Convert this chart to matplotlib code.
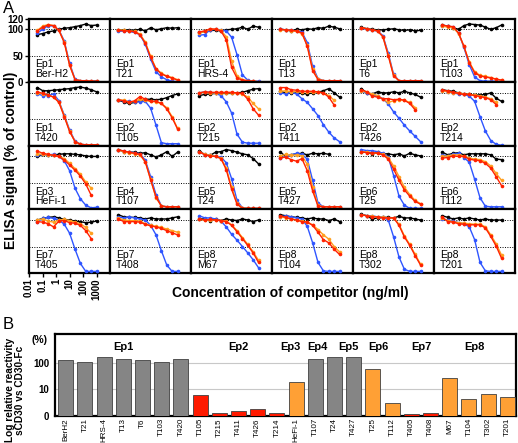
import numpy as np
import matplotlib
matplotlib.use("Agg")
import matplotlib.pyplot as plt

plt.rcParams['font.family'] = ['Liberation Sans', 'DejaVu Sans']

# ---- panel A data: competitor concentration (ng/ml) and ELISA signal (% of control)
conc = [0.042, 0.105, 0.26, 0.66, 1.64, 4.1, 10.2, 25.6, 64, 160, 400, 1000]

antibodies = ["Ber-H2", "T21", "HRS-4", "T13", "T6", "T103",
              "T420", "T105", "T215", "T411", "T426", "T214",
              "HeFi-1", "T107", "T24", "T427", "T25", "T112",
              "T405", "T408", "M67", "T104", "T302", "T201"]
epitopes = ["Ep1", "Ep1", "Ep1", "Ep1", "Ep1", "Ep1",
            "Ep1", "Ep2", "Ep2", "Ep2", "Ep2", "Ep2",
            "Ep3", "Ep4", "Ep5", "Ep5", "Ep6", "Ep6",
            "Ep7", "Ep7", "Ep8", "Ep8", "Ep8", "Ep8"]

nan = np.nan
black_curves = [
    [90, 92, 95, 97, 100, 102, 103, 105, 107, 110, 107, 108],
    [98, 99, 99, 98, 100, 97, 103, 99, 101, 103, 102, 103],
    [94, 96, 98, 98, 97, 99, 100, 101, 104, 100, 106, 104],
    [100, 99, 97, 100, 99, 101, 100, 103, 102, 106, 104, 101],
    [104, 101, 100, 99, 99, 100, 101, 99, 98, 99, 97, 98],
    [108, 106, 103, 100, 107, 110, 109, 108, 104, 100, 103, 108],
    [110, 104, 104, 105, 106, 107, 108, 110, 111, 109, 106, 102],
    [86, 83, 80, 82, 85, 88, 88, 87, 88, 91, 95, 98],
    [95, 97, 98, 99, 99, 99, 99, 100, 101, 104, 107, 108],
    [103, 100, 99, 100, 99, 98, 100, 101, 104, 108, 100, 92],
    [108, 100, 98, 102, 100, 100, 102, 100, 103, 100, 97, 92],
    [106, 104, 103, 100, 98, 97, 96, 96, 97, 100, 90, 84],
    [100, 104, 103, 103, 104, 105, 105, 104, 103, 101, 100, 100],
    [113, 109, 108, 108, 106, 107, 103, 99, 103, 109, 100, 108],
    [111, 103, 102, 108, 109, 113, 111, 108, 105, 103, 96, 86],
    [108, 100, 103, 105, 106, 103, 106, 105, 106, 104, nan, nan],
    [108, 108, 105, 108, 105, 105, 103, 105, 101, 106, 103, 101],
    [108, 103, 106, 107, 103, 105, 105, 105, 105, 103, 95, 94],
    [100, 103, 105, 106, 104, 101, 100, 98, 97, 95, 96, 98],
    [110, 106, 105, 105, 104, 102, 104, 102, 102, 102, 104, 106],
    [102, 102, 99, 102, 99, 102, 100, 99, 102, 100, 97, 100],
    [110, 108, 106, 105, 104, 102, 104, 102, 102, 99, 102, 97],
    [111, 108, 102, 104, 105, 105, 104, 107, 104, 104, 102, 100],
    [108, 105, 102, 104, 102, 104, 102, 100, 102, 100, 100, 100],
]
blue_curves = [
    [93, 100, 107, 106, 99, 78, 36, 6, 3, 3, 3, 3],
    [96, 97, 96, 94, 90, 72, 44, 20, 10, 5, 2, 1],
    [89, 90, 99, 100, 99, 97, 85, 52, 14, 4, 2, 2],
    [100, 99, 98, 97, 95, 75, 30, 7, 3, 3, 3, 3],
    [102, 100, 98, 97, 88, 55, 15, 3, 3, 3, 3, 3],
    [107, 106, 104, 93, 66, 33, 10, 3, 2, 2, 2, 2],
    [98, 95, 95, 98, 85, 58, 30, 9, 3, 2, 2, 2],
    [86, 85, 84, 83, 83, 84, 71, 39, 6, 4, 4, 4],
    [100, 102, 101, 99, 95, 83, 62, 22, 7, 5, 5, 5],
    [100, 98, 101, 98, 89, 82, 70, 57, 40, 26, 15, 8],
    [103, 100, 97, 94, 89, 79, 64, 52, 39, 28, 18, 8],
    [104, 102, 100, 98, 97, 94, 84, 55, 28, 10, 3, 1],
    [102, 104, 103, 104, 100, 92, 73, 40, 20, 8, 3, 4],
    [112, 110, 108, 107, 105, 93, 62, 28, 7, 5, 5, 5],
    [108, 104, 102, 100, 99, 88, 58, 17, 3, 2, 2, 2],
    [97, 100, 103, 106, 104, 95, 55, 12, 5, 5, 5, 5],
    [113, 111, 111, 109, 106, 99, 64, 25, 8, 2, 2, 2],
    [103, 101, 104, 106, 98, 89, 57, 22, 6, 5, 5, 5],
    [97, 103, 105, 103, 100, 92, 75, 45, 18, 3, 3, 3],
    [106, 104, 106, 104, 102, 100, 90, 72, 42, 15, 3, 3],
    [108, 104, 104, 102, 98, 87, 73, 62, 50, 38, 25, 10],
    [106, 108, 106, 104, 102, 88, 57, 20, 4, 3, 3, 3],
    [110, 108, 108, 106, 105, 100, 68, 30, 7, 3, 3, 3],
    [102, 100, 98, 95, 93, 87, 63, 20, 4, 3, 3, 3],
]
orange_curves = [
    [98, 106, 109, 107, 98, 76, 33, 5, 3, 3, 2, 2],
    [99, 98, 97, 96, 91, 76, 49, 26, 17, 12, 9, 5],
    [93, 96, 100, 100, 98, 86, 40, 12, 5, 3, 2, 1],
    [99, 99, 97, 96, 92, 70, 25, 6, 3, 3, 3, 3],
    [103, 101, 99, 97, 86, 52, 13, 3, 3, 3, 3, 3],
    [106, 104, 103, 92, 68, 38, 20, 13, 11, 9, 6, 4],
    [100, 98, 96, 92, 83, 57, 28, 8, 3, 2, 2, 2],
    [87, 86, 83, 84, 88, 86, 84, 83, 80, 72, 55, 33],
    [100, 101, 100, 100, 100, 100, 100, 99, 98, 92, 80, 70],
    [103, 104, 102, 103, 102, 102, 101, 101, 100, 95, 86, nan],
    [104, 101, 98, 95, 88, 82, 85, 87, 86, 82, 72, nan],
    [104, 102, 100, 100, 98, 97, 96, 94, 92, 89, 82, nan],
    [105, 104, 103, 102, 100, 96, 87, 77, 66, 52, 40, nan],
    [112, 109, 107, 105, 103, 90, 57, 22, 7, 5, 5, 5],
    [109, 104, 102, 100, 97, 78, 42, 12, 3, 2, 2, 2],
    [101, 104, 102, 103, 101, 85, 42, 8, 5, 5, 5, 5],
    [109, 108, 107, 106, 104, 98, 82, 62, 42, 28, 17, 11],
    [100, 101, 103, 103, 101, 97, 95, 94, 90, 82, 68, 55],
    [100, 102, 98, 96, 100, 101, 99, 96, 93, 86, 75, nan],
    [104, 100, 99, 99, 98, 93, 90, 88, 86, 83, 80, 77],
    [101, 100, 100, 100, 99, 98, 91, 80, 67, 54, 40, 24],
    [106, 104, 102, 100, 98, 96, 91, 82, 72, 64, 50, 40],
    [110, 108, 107, 106, 105, 104, 104, 92, 70, 54, 35, 17],
    [103, 99, 97, 95, 94, 93, 92, 92, 87, 72, 55, 34],
]
red_curves = [
    [97, 104, 108, 107, 98, 75, 32, 5, 3, 3, 2, 2],
    [98, 97, 97, 95, 90, 74, 47, 25, 16, 11, 8, 4],
    [95, 97, 101, 100, 97, 80, 28, 8, 4, 3, 2, 1],
    [100, 99, 98, 97, 93, 68, 22, 5, 3, 3, 3, 3],
    [103, 101, 99, 97, 86, 50, 12, 3, 3, 3, 3, 3],
    [108, 106, 105, 93, 68, 37, 18, 12, 10, 8, 6, 4],
    [102, 99, 96, 92, 82, 55, 27, 8, 3, 2, 2, 2],
    [87, 85, 82, 85, 93, 88, 84, 84, 80, 70, 53, 32],
    [100, 102, 101, 101, 101, 101, 101, 100, 99, 88, 70, 58],
    [110, 110, 106, 105, 103, 103, 103, 102, 100, 92, 77, nan],
    [106, 102, 94, 92, 89, 89, 87, 88, 86, 80, 68, nan],
    [106, 103, 101, 99, 97, 97, 95, 93, 91, 87, 78, nan],
    [110, 106, 104, 102, 100, 93, 84, 74, 63, 48, 27, nan],
    [113, 110, 108, 106, 104, 90, 56, 23, 6, 5, 5, 5],
    [109, 103, 101, 100, 96, 75, 38, 10, 2, 2, 2, 2],
    [97, 99, 94, 91, 96, 73, 35, 6, 5, 5, 5, 5],
    [109, 107, 107, 106, 103, 95, 76, 55, 37, 25, 15, 10],
    [97, 98, 101, 100, 100, 95, 93, 92, 87, 78, 62, 45],
    [97, 96, 93, 87, 98, 99, 95, 94, 90, 80, 65, nan],
    [102, 97, 97, 97, 96, 92, 89, 87, 84, 80, 76, 72],
    [102, 100, 101, 100, 99, 97, 90, 78, 65, 52, 38, 20],
    [108, 105, 102, 100, 97, 96, 90, 77, 63, 57, 45, 35],
    [110, 108, 106, 106, 104, 104, 104, 90, 68, 52, 33, 15],
    [105, 97, 96, 93, 92, 91, 91, 91, 85, 69, 51, 28],
]

# ---- panel B data: relative reactivity sCD30 vs CD30-Fc (%)
bar_labels = ["BerH2", "T21", "HRS-4", "T13", "T6", "T103", "T420",
              "T105", "T215", "T411", "T426", "T214", "HeFi-1",
              "T107", "T24", "T427", "T25", "T112", "T405", "T408",
              "M67", "T104", "T302", "T201"]
bar_values = [132, 111, 166, 144, 132, 111, 144,
              6.3, 1.32, 1.52, 1.87, 1.3, 19.5,
              144, 161, 166, 57, 2.96, 1.24, 1.32,
              27.6, 4.46, 6.9, 5.0]
bar_class = ["full"] * 7 + ["lost"] * 5 + ["reduced"] + ["full"] * 3 + \
            ["reduced", "reduced", "lost", "lost"] + ["reduced"] * 4
ep_names = ["Ep1", "Ep2", "Ep3", "Ep4", "Ep5", "Ep6", "Ep7", "Ep8"]

class_colors = {"full": "#858585", "lost": "#ff1a00", "reduced": "#ffa035"}
series_colors = ["#000000", "#2f55ff", "#ffa020", "#ff2200"]

W, H = 518, 443
fig = plt.figure(figsize=(W / 100, H / 100), dpi=100)

# ---------------- Panel A ----------------
gl, gr, gt, gb = 29, 515, 18.7, 273
pw = (gr - gl) / 6
ph = (gb - gt) / 4
for i, name in enumerate(antibodies):
    r, c = divmod(i, 6)
    ax = fig.add_axes([(gl + c * pw) / W, 1 - (gt + (r + 1) * ph) / H, pw / W, ph / H])
    ax.set_xscale('log')
    ax.set_xlim(0.01, 1e4)
    ax.set_ylim(0, 120)
    for yy in (50, 100):
        ax.axhline(yy, color='k', ls=(0, (1, 1.5)), lw=0.7, zorder=1)
    for data, col in zip([black_curves, blue_curves, orange_curves, red_curves], series_colors):
        ax.plot(conc, data[i], '-o', color=col, lw=1.0, ms=2.6, mew=0, zorder=3)
    ax.text(0.07, 0.05, epitopes[i] + "\n" + name, transform=ax.transAxes,
            fontsize=7.5, ha='left', va='bottom', linespacing=0.95)
    for sp in ax.spines.values():
        sp.set_linewidth(1.6)
    ax.minorticks_off()
    if i == 0:
        ax.set_yticks([0, 50, 100, 120])
        ax.set_yticklabels(["0", "50", "100", "120"], fontsize=7, fontweight='bold')
        ax.tick_params(axis='y', length=3, width=1, pad=1)
    else:
        ax.set_yticks([])
    if i == 18:
        ax.set_xticks([0.01, 0.1, 1, 10, 100, 1000])
        ax.set_xticklabels(["0.01", "0.1", "1", "10", "100", "1000"],
                           rotation=90, fontsize=7, fontweight='bold')
        ax.tick_params(axis='x', length=3, width=1, pad=1)
    else:
        ax.set_xticks([])

fig.text(3 / W, 1 - 1 / H, "A", fontsize=12, ha='left', va='top')
fig.text(11 / W, 1 - 160 / H, "ELISA signal (% of control)", rotation=90,
         fontsize=10, fontweight='bold', ha='center', va='center')
fig.text(290 / W, 1 - 293 / H, "Concentration of competitor (ng/ml)",
         fontsize=10, fontweight='bold', ha='center', va='center')

# ---------------- Panel B ----------------
bl, br, bt, bb = 55, 516, 334, 416
axb = fig.add_axes([bl / W, 1 - bb / H, (br - bl) / W, (bb - bt) / H])
axb.set_yscale('log')
x = np.arange(len(bar_values))
axb.bar(x, bar_values, width=0.78, color=[class_colors[k] for k in bar_class],
        edgecolor='#404040', linewidth=0.6, zorder=3)
axb.set_ylim(1, 1200)
axb.set_xlim(-0.56, len(bar_values) - 0.55)
for yy in (10, 100):
    axb.axhline(yy, color='#c8c8c8', lw=0.8, zorder=1)
axb.set_yticks([1, 10, 100])
axb.set_yticklabels(["0", "10", "100"], fontsize=7, fontweight='bold')
axb.minorticks_off()
axb.tick_params(axis='y', length=0, pad=4)
axb.set_xticks(x)
axb.set_xticklabels(bar_labels, rotation=90, fontsize=5.8)
axb.tick_params(axis='x', length=0, pad=1.5)
for sp in axb.spines.values():
    sp.set_linewidth(1.6)

# epitope group labels, nudged apart where groups are narrow
nudge = {"Ep3": -0.3, "Ep4": 0.1, "Ep5": 0.2, "Ep6": -0.2, "Ep8": -0.2}
for ep in ep_names:
    idx = [i for i, e in enumerate(epitopes) if e == ep]
    axb.text(np.mean(idx) + nudge.get(ep, 0), 380, ep, ha='center', va='center',
             fontsize=8, fontweight='bold')
axb.text(-0.033, 700, "(%)", transform=axb.get_yaxis_transform(),
         ha='center', va='center', fontsize=7.5, fontweight='bold')

fig.text(3 / W, 1 - 317 / H, "B", fontsize=12, ha='left', va='top')
fig.text(15 / W, 1 - 390 / H, "Log relative reactivity\nsCD30 vs CD30-Fc", rotation=90,
         fontsize=7.3, fontweight='bold', ha='center', va='center',
         multialignment='center', linespacing=1.0)

fig.savefig("out.png", dpi=100)
